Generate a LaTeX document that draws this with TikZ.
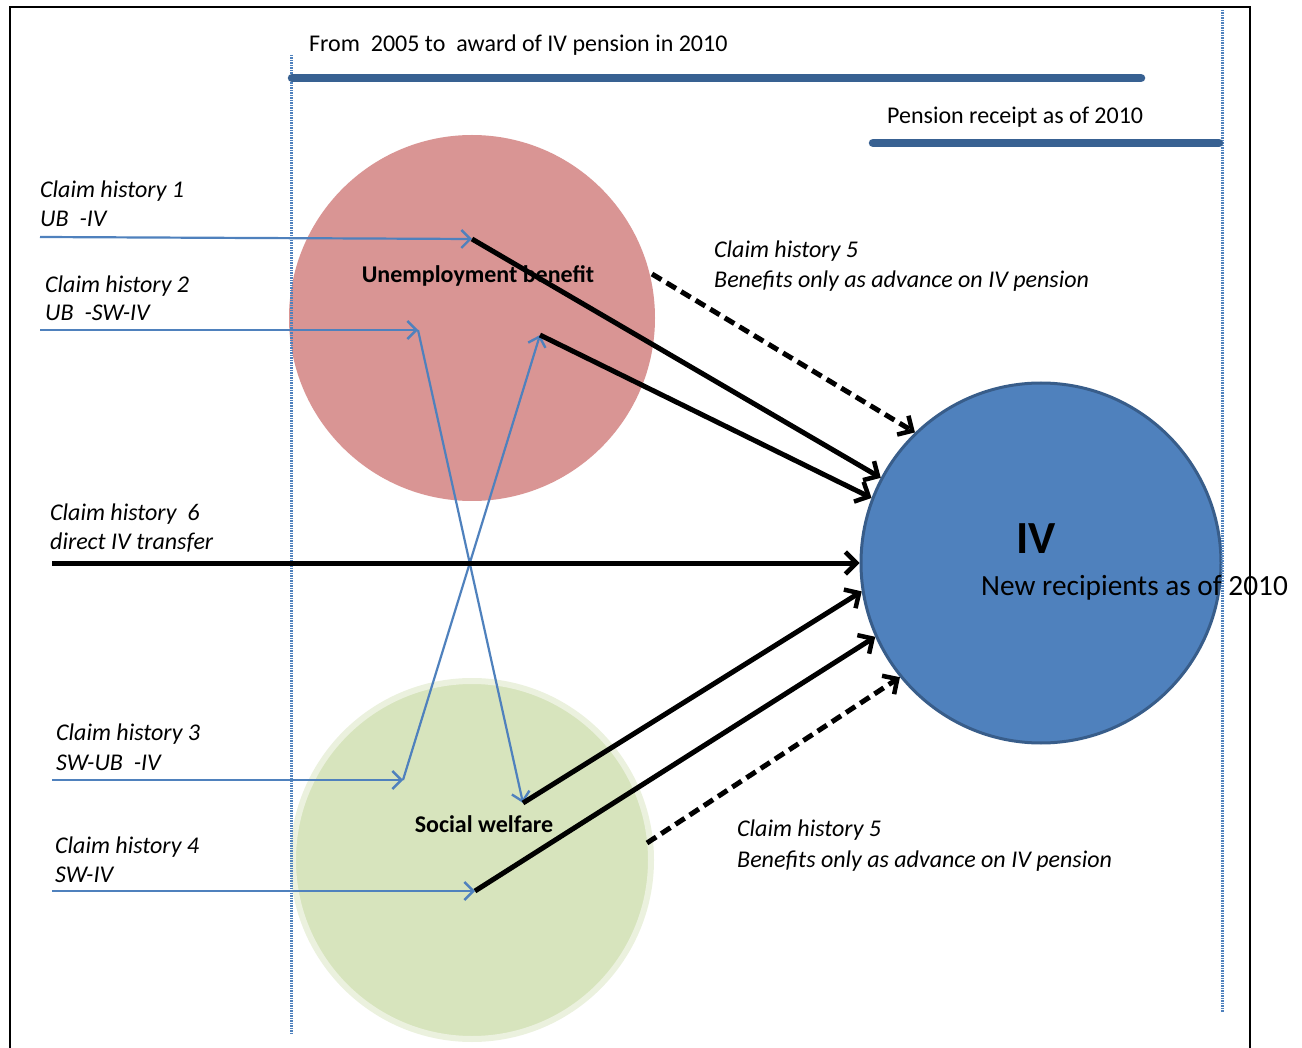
\documentclass[tikz,border=0pt]{standalone}
\usepackage{fontspec}
\setmainfont{Carlito}
\usetikzlibrary{arrows.meta}
\definecolor{ubfill}{RGB}{217,149,148}
\definecolor{swfill}{RGB}{215,228,189}
\definecolor{swring}{RGB}{235,241,222}
\definecolor{ivfill}{RGB}{79,129,189}
\definecolor{ivborder}{RGB}{56,93,138}
\definecolor{barcol}{RGB}{56,97,146}
\definecolor{flow}{RGB}{79,129,189}
\begin{document}
\begin{tikzpicture}[x=1pt,y=-1pt,
  lbl/.style={anchor=base west, inner sep=0pt, font=\fontsize{24}{28}\selectfont\itshape},
  txt/.style={anchor=base west, inner sep=0pt, font=\fontsize{24}{28}\selectfont},
  boldlbl/.style={anchor=base, inner sep=0pt, font=\fontsize{24}{28}\selectfont\bfseries},
  blk/.style={line width=5pt, -{Straight Barb[length=11pt,width=22pt,line width=4.5pt]}},
  blkdash/.style={blk, dash pattern=on 11pt off 6pt},
  blueline/.style={flow, line width=2.2pt},
  bluearr/.style={blueline, -{Straight Barb[length=9pt,width=18pt,line width=2.4pt]}},
  barline/.style={barcol, line width=8.5pt, line cap=round},
  guide/.style={flow, line width=3pt, dash pattern=on 1.5pt off 1pt}
]
\useasboundingbox (0,0) rectangle (1302,1048);
% circles
\node[circle, fill=ubfill, minimum size=366pt, inner sep=0pt] (ub) at (472,318) {};
\node[circle, fill=swfill, draw=swring, line width=6pt, minimum size=358pt, inner sep=0pt] (sw) at (472,860) {};
\node[circle, fill=ivfill, draw=ivborder, line width=3pt, minimum size=360pt, inner sep=0pt] (iv) at (1041,563) {};
% frame
\draw[line width=2pt] (10,1048) -- (10,7) -- (1250,7) -- (1250,1048);
% guides
\coordinate (g1t) at (291,55); \coordinate (g1b) at (291,1035);
\coordinate (g2t) at (1222,10); \coordinate (g2b) at (1222,1012);
\draw[guide] (g1t) -- (g1b);
\draw[guide] (g2t) -- (g2b);
% bars
\coordinate (b1l) at (292,78); \coordinate (b1r) at (1141,78);
\coordinate (b2l) at (873,143); \coordinate (b2r) at (1219,143);
\draw[barline] (b1l) -- (b1r);
\draw[barline] (b2l) -- (b2r);
\node[txt] (tfrom) at (309,52) {From\ \ 2005 to\ \ award of IV pension in 2010};
\node[txt] (tpens) at (887,124) {Pension receipt as of 2010};
% circle labels
\node[boldlbl] (tub) at (478,283) {Unemployment benefit};
\node[boldlbl] (tsw) at (484,832) {Social welfare};
\node[anchor=base, inner sep=0pt, font=\fontsize{46}{50}\selectfont\bfseries] (tiv) at (1036,553) {IV};
\node[anchor=base west, inner sep=0pt, font=\fontsize{29.3}{34}\selectfont] (tnew) at (981,595) {New recipients as of 2010};
% claim labels
\node[lbl] (l1a) at (40,198) {Claim history 1};
\node[lbl] (l1b) at (40,227) {UB\ \ -IV};
\node[lbl] (l2a) at (45,293) {Claim history 2};
\node[lbl] (l2b) at (45,321) {UB\ \ -SW-IV};
\node[lbl] (l5a) at (714,258) {Claim history 5};
\node[lbl] (l5b) at (714,288) {Benefits only as advance on IV pension};
\node[lbl] (l6a) at (50,521) {Claim history\ \ 6};
\node[lbl] (l6b) at (50,550) {direct IV transfer};
\node[lbl] (l3a) at (56,740) {Claim history 3};
\node[lbl] (l3b) at (56,770) {SW-UB\ \ -IV};
\node[lbl] (l4a) at (55,853) {Claim history 4};
\node[lbl] (l4b) at (55,882) {SW-IV};
\node[lbl] (l7a) at (737,836) {Claim history 5};
\node[lbl] (l7b) at (737,867) {Benefits only as advance on IV pension};
% flow coordinates
\coordinate (c1a) at (40,237); \coordinate (c1b) at (472,239);
\coordinate (c2a) at (40,330); \coordinate (c2b) at (418,330); \coordinate (c2c) at (523,803);
\coordinate (c3a) at (52,780); \coordinate (c3b) at (403,780); \coordinate (c3c) at (540,335);
\coordinate (c4a) at (52,891); \coordinate (c4b) at (475,891);
\coordinate (c6a) at (52,563);
\coordinate (c5a) at (652,274); \coordinate (c5b) at (647,843);
% blue flows
\draw[bluearr] (c1a) -- (c1b);
\draw[bluearr] (c2a) -- (c2b);
\draw[bluearr] (c2b) -- (c2c);
\draw[bluearr] (c3a) -- (c3b);
\draw[bluearr] (c3b) -- (c3c);
\draw[bluearr] (c4a) -- (c4b);
% black flows
\draw[blk] (c1b) -- (iv.152.6);
\draw[blk] (c3c) -- (iv.159.7);
\draw[blk] (c6a) -- (iv.180);
\draw[blk] (c2c) -- (iv.189.4);
\draw[blk] (c4b) -- (iv.204.1);
\draw[blkdash] (c5a) -- (iv.134.6);
\draw[blkdash] (c5b) -- (iv.219.1);
\end{tikzpicture}
\end{document}
